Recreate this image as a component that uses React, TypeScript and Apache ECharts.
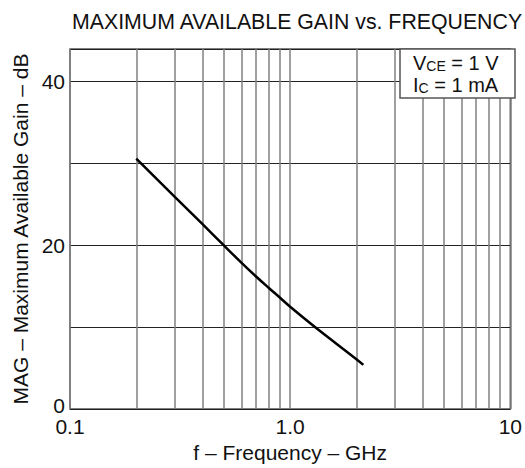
import React, { useEffect, useRef } from "react";
import * as echarts from "echarts";

const freqGHz = [0.2, 0.3, 0.4, 0.5, 0.6, 0.7, 0.8, 0.9, 1.0, 1.3, 2.0, 2.15];
const magDb = [30.6, 25.9, 22.6, 20.0, 17.9, 16.2, 14.8, 13.6, 12.5, 10.0, 6.1, 5.4];
const minorFreqLines = [0.2, 0.3, 0.4, 0.5, 0.6, 0.7, 0.8, 0.9, 2, 3, 4, 5, 6, 7, 8, 9];
const xTickLabels: Record<string, string> = { "0.1": "0.1", "1": "1.0", "10": "10" };
const yTickLabels = [0, 20, 40];

const FONT = "'Liberation Sans', Arial, Helvetica, sans-serif";

export default function App() {
  const ref = useRef<HTMLDivElement>(null);
  useEffect(() => {
    if (!ref.current) return;
    document.body.style.margin = "0";
    const chart = echarts.init(ref.current, undefined, { renderer: "svg" });
    const data = freqGHz.map((f, i) => [f, magDb[i]]);
    chart.setOption({
      animation: false,
      backgroundColor: "#ffffff",
      textStyle: { fontFamily: FONT },
      title: {
        text: "MAXIMUM AVAILABLE GAIN vs. FREQUENCY",
        left: 67,
        top: 6,
        textStyle: { fontFamily: FONT, fontSize: 21.3, fontWeight: "normal", color: "#111" },
      },
      grid: {
        left: 70,
        right: 10,
        top: 49,
        bottom: 56,
        show: true,
        borderColor: "#555",
        borderWidth: 1.5,
        backgroundColor: "transparent",
      },
      xAxis: {
        type: "log",
        logBase: 10,
        min: 0.1,
        max: 10,
        name: "f – Frequency – GHz",
        nameLocation: "middle",
        nameGap: 29,
        nameTextStyle: { fontFamily: FONT, fontSize: 21, color: "#111" },
        axisLine: { show: false },
        axisTick: { show: false },
        axisLabel: {
          margin: 7,
          fontFamily: FONT,
          fontSize: 21,
          color: "#111",
          formatter: (v: number) => xTickLabels[String(+v.toPrecision(3))] ?? "",
        },
        splitLine: { show: true, lineStyle: { color: "#808080", width: 1.5 } },
      },
      yAxis: {
        type: "value",
        min: 0,
        max: 44,
        interval: 10,
        name: "MAG – Maximum Available Gain – dB",
        nameLocation: "middle",
        nameGap: 34,
        nameTextStyle: { fontFamily: FONT, fontSize: 21, color: "#111" },
        axisLine: { show: false },
        axisTick: { show: false },
        axisLabel: {
          margin: 5,
          fontFamily: FONT,
          fontSize: 21,
          color: "#111",
          formatter: (v: number) =>
            yTickLabels.includes(v) ? (v === 0 ? "{z|0}" : String(v)) : "",
          rich: {
            z: { fontFamily: FONT, fontSize: 21, color: "#111", padding: [0, 0, 8, 0] },
          },
        },
        splitLine: { show: true, lineStyle: { color: "#222", width: 1 } },
      },
      series: [
        {
          type: "line",
          data,
          smooth: 0.4,
          showSymbol: false,
          lineStyle: { color: "#000", width: 2.5 },
          z: 5,
          markLine: {
            silent: true,
            symbol: "none",
            label: { show: false },
            lineStyle: { color: "#808080", width: 1.5, type: "solid" },
            data: minorFreqLines.map((v) => ({ xAxis: v })),
            z: 1,
          },
        },
      ],
      graphic: [
        {
          type: "rect",
          z: 100,
          shape: { x: 400, y: 49, width: 115, height: 49 },
          style: { fill: "#fff", stroke: "#555", lineWidth: 1.5 },
        },
        {
          type: "text",
          z: 101,
          x: 413,
          y: 63,
          style: {
            text: "{b|V}{s|CE}{b| = 1 V}",
            textVerticalAlign: "middle",
            rich: {
              b: { fontFamily: FONT, fontSize: 20, fill: "#111", verticalAlign: "bottom", lineHeight: 20 },
              s: { fontFamily: FONT, fontSize: 14, fill: "#111", verticalAlign: "bottom", lineHeight: 16 },
            },
          },
        },
        {
          type: "text",
          z: 101,
          x: 413,
          y: 85,
          style: {
            text: "{b|I}{s|C}{b| = 1 mA}",
            textVerticalAlign: "middle",
            rich: {
              b: { fontFamily: FONT, fontSize: 20, fill: "#111", verticalAlign: "bottom", lineHeight: 20 },
              s: { fontFamily: FONT, fontSize: 14, fill: "#111", verticalAlign: "bottom", lineHeight: 16 },
            },
          },
        },
      ],
    });
    return () => chart.dispose();
  }, []);
  return <div ref={ref} style={{ width: 525, height: 468 }} />;
}
